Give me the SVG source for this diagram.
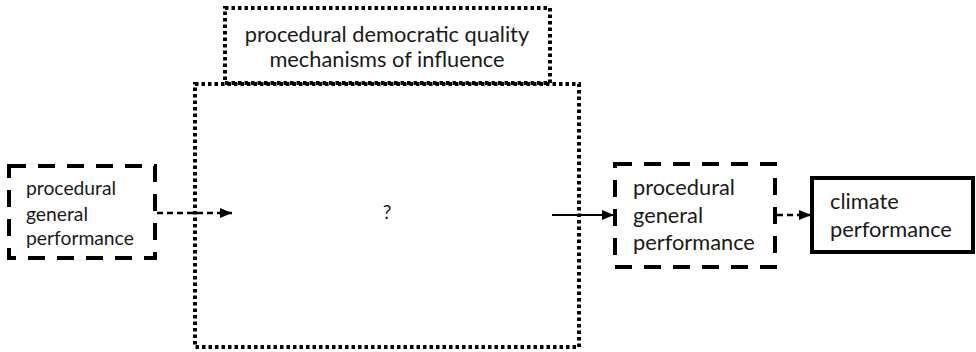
<svg xmlns="http://www.w3.org/2000/svg" width="976" height="352" viewBox="0 0 976 352">
<style>
text{font-family:Lato,"Open Sans","Liberation Sans",sans-serif;fill:#1a1a1a}
.dash{fill:none;stroke:#000;stroke-width:4;stroke-dasharray:17 12}
.dot{fill:none;stroke:#000;stroke-width:4;stroke-dasharray:3.5 3}
.solid{fill:none;stroke:#000;stroke-width:4}
.s{font-size:19.3px}
.m{font-size:21.8px}
</style>
<defs>
<marker id="ah" viewBox="0 0 12 10" refX="12" refY="5" markerWidth="12" markerHeight="10" markerUnits="userSpaceOnUse" orient="auto">
<path d="M0,0 L12,5 L0,10 Z" fill="#000"/>
</marker>
</defs>
<rect width="976" height="352" fill="#fff"/>
<g id="mechanisms">
<rect class="dot" x="195" y="84" width="384" height="263"/>
<text class="s" x="387" y="219" text-anchor="middle">?</text>
</g>
<g id="quality">
<rect class="dot" x="225" y="8" width="325" height="75"/>
<text class="m" x="387" y="42" text-anchor="middle">procedural democratic quality</text>
<text class="m" x="387" y="67" text-anchor="middle">mechanisms of influence</text>
</g>
<g id="left">
<rect class="dash" x="9" y="166" width="146" height="92"/>
<text class="s" x="26" y="195">procedural</text>
<text class="s" x="26" y="221">general</text>
<text class="s" x="26" y="245">performance</text>
</g>
<g id="right">
<rect class="dash" x="615" y="164" width="160" height="103"/>
<text class="m" x="633" y="195">procedural</text>
<text class="m" x="633" y="223">general</text>
<text class="m" x="633" y="250">performance</text>
</g>
<g id="climate">
<rect class="solid" x="812" y="178" width="161" height="74"/>
<text class="m" x="830" y="209">climate</text>
<text class="m" x="830" y="237">performance</text>
</g>
<g id="connectors">
<line x1="157" y1="213" x2="232" y2="213" stroke="#000" stroke-width="2.5" stroke-dasharray="6 4" marker-end="url(#ah)"/>
<line x1="552" y1="215" x2="614" y2="215" stroke="#000" stroke-width="2" marker-end="url(#ah)"/>
<line x1="777" y1="215" x2="811" y2="215" stroke="#000" stroke-width="2.5" stroke-dasharray="6 4" marker-end="url(#ah)"/>
</g>
</svg>
